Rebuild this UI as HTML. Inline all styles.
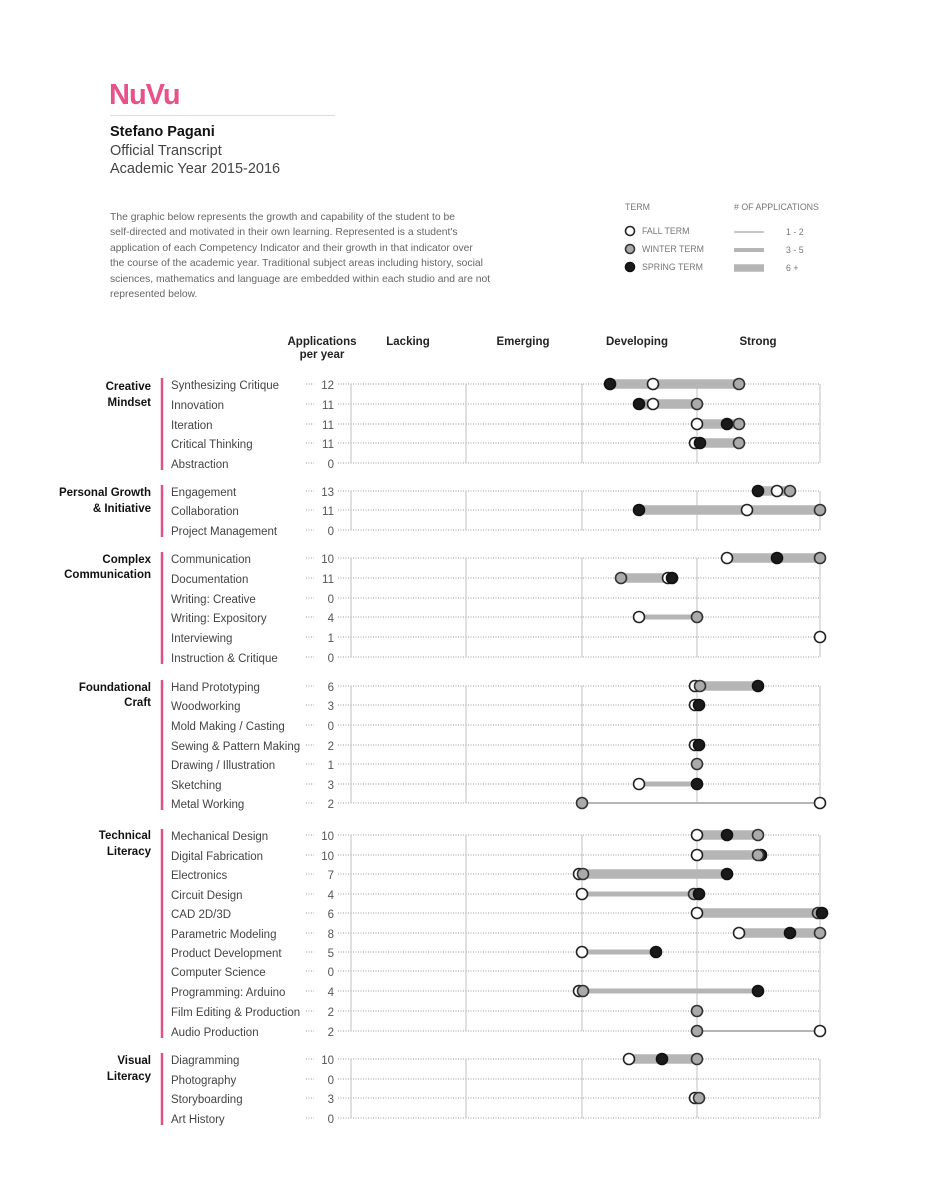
<!DOCTYPE html>
<html><head><meta charset="utf-8"><style>
html,body{margin:0;padding:0;background:#fff}
svg{display:block;font-family:"Liberation Sans",sans-serif}
.gl{font-weight:bold;font-size:11.5px;fill:#111;text-anchor:end}
.il{font-size:11.5px;fill:#444}
.ct{font-size:11.5px;fill:#555;text-anchor:end}
.hd{font-weight:bold;font-size:11.5px;fill:#222;text-anchor:middle}
.p{font-size:10.35px;fill:#666}
.lg{font-size:8.8px;fill:#777}
.dot{stroke:#999;stroke-width:1;stroke-dasharray:1 1.5}
.vg{stroke:#ccc;stroke-width:1.2}
.pk{stroke:#e0508a;stroke-width:2.5}
.f{fill:#fff;stroke:#222;stroke-width:1.6}
.w{fill:#aaa;stroke:#333;stroke-width:1.6}
.s{fill:#1a1a1a;stroke:#111;stroke-width:1.6}
.b9{stroke:#b5b5b5;stroke-width:9.5}
.b5{stroke:#b5b5b5;stroke-width:5}
.b2{stroke:#b5b5b5;stroke-width:2}
</style></head><body>
<svg width="928" height="1200" viewBox="0 0 928 1200">
<text x="109" y="104" font-size="29" font-weight="bold" fill="#e8528a" letter-spacing="-1">NuVu</text>
<line x1="110" y1="115.5" x2="335" y2="115.5" stroke="#ddd"/>
<text x="110" y="136" font-size="14.5" font-weight="bold" fill="#111">Stefano Pagani</text>
<text x="110" y="155" font-size="14.5" fill="#444">Official Transcript</text>
<text x="110" y="173" font-size="14.5" fill="#444">Academic Year 2015-2016</text>
<text class="p" x="110" y="220">The graphic below represents the growth and capability of the student to be</text>
<text class="p" x="110" y="235">self-directed and motivated in their own learning. Represented is a student's</text>
<text class="p" x="110" y="251">application of each Competency Indicator  and their growth in that indicator over</text>
<text class="p" x="110" y="266">the course of the academic year. Traditional subject areas including history, social</text>
<text class="p" x="110" y="282">sciences, mathematics and language are embedded within each studio and are not</text>
<text class="p" x="110" y="297">represented below.</text>

<text class="lg" x="625" y="210">TERM</text>
<text class="lg" x="734" y="210"># OF APPLICATIONS</text>
<circle class="f" cx="630" cy="231" r="4.5"/><text class="lg" x="642" y="234">FALL TERM</text>
<circle class="w" cx="630" cy="249" r="4.5"/><text class="lg" x="642" y="252">WINTER TERM</text>
<circle class="s" cx="630" cy="267" r="4.5"/><text class="lg" x="642" y="270">SPRING TERM</text>
<line x1="734" y1="232" x2="764" y2="232" stroke="#b5b5b5" stroke-width="1.5"/><text class="lg" x="786" y="235">1 - 2</text>
<line x1="734" y1="250" x2="764" y2="250" stroke="#b5b5b5" stroke-width="4"/><text class="lg" x="786" y="253">3 - 5</text>
<line x1="734" y1="268" x2="764" y2="268" stroke="#b5b5b5" stroke-width="7.5"/><text class="lg" x="786" y="271">6 +</text>

<text class="hd" x="322" y="345">Applications</text>
<text class="hd" x="322" y="358">per year</text>
<text class="hd" x="408" y="345">Lacking</text>
<text class="hd" x="523" y="345">Emerging</text>
<text class="hd" x="637" y="345">Developing</text>
<text class="hd" x="758" y="345">Strong</text>

<g class="vg">
<line x1="351" y1="384" x2="351" y2="463"/><line x1="466" y1="384" x2="466" y2="463"/><line x1="582" y1="384" x2="582" y2="463"/><line x1="697" y1="384" x2="697" y2="463"/><line x1="820" y1="384" x2="820" y2="463"/>
<line x1="351" y1="491" x2="351" y2="530"/><line x1="466" y1="491" x2="466" y2="530"/><line x1="582" y1="491" x2="582" y2="530"/><line x1="697" y1="491" x2="697" y2="530"/><line x1="820" y1="491" x2="820" y2="530"/>
<line x1="351" y1="558" x2="351" y2="657"/><line x1="466" y1="558" x2="466" y2="657"/><line x1="582" y1="558" x2="582" y2="657"/><line x1="697" y1="558" x2="697" y2="657"/><line x1="820" y1="558" x2="820" y2="657"/>
<line x1="351" y1="686" x2="351" y2="803"/><line x1="466" y1="686" x2="466" y2="803"/><line x1="582" y1="686" x2="582" y2="803"/><line x1="697" y1="686" x2="697" y2="803"/><line x1="820" y1="686" x2="820" y2="803"/>
<line x1="351" y1="835" x2="351" y2="1031"/><line x1="466" y1="835" x2="466" y2="1031"/><line x1="582" y1="835" x2="582" y2="1031"/><line x1="697" y1="835" x2="697" y2="1031"/><line x1="820" y1="835" x2="820" y2="1031"/>
<line x1="351" y1="1059" x2="351" y2="1118"/><line x1="466" y1="1059" x2="466" y2="1118"/><line x1="582" y1="1059" x2="582" y2="1118"/><line x1="697" y1="1059" x2="697" y2="1118"/><line x1="820" y1="1059" x2="820" y2="1118"/>
</g>
<g class="dot">
<path d="M306 384H314M338 384H820M306 404H314M338 404H820M306 424H314M338 424H820M306 443H314M338 443H820M306 463H314M338 463H820
M306 491H314M338 491H820M306 510H314M338 510H820M306 530H314M338 530H820
M306 558H314M338 558H820M306 578H314M338 578H820M306 598H314M338 598H820M306 617H314M338 617H820M306 637H314M338 637H820M306 657H314M338 657H820
M306 686H314M338 686H820M306 705H314M338 705H820M306 725H314M338 725H820M306 745H314M338 745H820M306 764H314M338 764H820M306 784H314M338 784H820M306 803H314M338 803H820
M306 835H314M338 835H820M306 855H314M338 855H820M306 874H314M338 874H820M306 894H314M338 894H820M306 913H314M338 913H820M306 933H314M338 933H820M306 952H314M338 952H820M306 971H314M338 971H820M306 991H314M338 991H820M306 1011H314M338 1011H820M306 1031H314M338 1031H820
M306 1059H314M338 1059H820M306 1079H314M338 1079H820M306 1098H314M338 1098H820M306 1118H314M338 1118H820"/>
</g>
<g class="pk">
<line x1="162" y1="378" x2="162" y2="470"/>
<line x1="162" y1="485" x2="162" y2="537"/>
<line x1="162" y1="552" x2="162" y2="664"/>
<line x1="162" y1="680" x2="162" y2="810"/>
<line x1="162" y1="829" x2="162" y2="1038"/>
<line x1="162" y1="1053" x2="162" y2="1125"/>
</g>
<text class="gl" x="151" y="390">Creative</text><text class="gl" x="151" y="406">Mindset</text>
<text class="gl" x="151" y="496">Personal Growth</text><text class="gl" x="151" y="512">&amp; Initiative</text>
<text class="gl" x="151" y="563">Complex</text><text class="gl" x="151" y="578">Communication</text>
<text class="gl" x="151" y="691">Foundational</text><text class="gl" x="151" y="706">Craft</text>
<text class="gl" x="151" y="839">Technical</text><text class="gl" x="151" y="855">Literacy</text>
<text class="gl" x="151" y="1064">Visual</text><text class="gl" x="151" y="1080">Literacy</text>
<g class="il">
<text x="171" y="389">Synthesizing Critique</text><text x="171" y="409">Innovation</text><text x="171" y="429">Iteration</text><text x="171" y="448">Critical Thinking</text><text x="171" y="468">Abstraction</text>
<text x="171" y="496">Engagement</text><text x="171" y="515">Collaboration</text><text x="171" y="535">Project Management</text>
<text x="171" y="563">Communication</text><text x="171" y="583">Documentation</text><text x="171" y="603">Writing: Creative</text><text x="171" y="622">Writing: Expository</text><text x="171" y="642">Interviewing</text><text x="171" y="662">Instruction &amp; Critique</text>
<text x="171" y="691">Hand Prototyping</text><text x="171" y="710">Woodworking</text><text x="171" y="730">Mold Making / Casting</text><text x="171" y="750">Sewing &amp; Pattern Making</text><text x="171" y="769">Drawing / Illustration</text><text x="171" y="789">Sketching</text><text x="171" y="808">Metal Working</text>
<text x="171" y="840">Mechanical Design</text><text x="171" y="860">Digital Fabrication</text><text x="171" y="879">Electronics</text><text x="171" y="899">Circuit Design</text><text x="171" y="918">CAD 2D/3D</text><text x="171" y="938">Parametric Modeling</text><text x="171" y="957">Product Development</text><text x="171" y="976">Computer Science</text><text x="171" y="996">Programming: Arduino</text><text x="171" y="1016">Film Editing &amp; Production</text><text x="171" y="1036">Audio Production</text>
<text x="171" y="1064">Diagramming</text><text x="171" y="1084">Photography</text><text x="171" y="1103">Storyboarding</text><text x="171" y="1123">Art History</text>
</g>
<g class="ct">
<text x="334" y="389">12</text><text x="334" y="409">11</text><text x="334" y="429">11</text><text x="334" y="448">11</text><text x="334" y="468">0</text>
<text x="334" y="496">13</text><text x="334" y="515">11</text><text x="334" y="535">0</text>
<text x="334" y="563">10</text><text x="334" y="583">11</text><text x="334" y="603">0</text><text x="334" y="622">4</text><text x="334" y="642">1</text><text x="334" y="662">0</text>
<text x="334" y="691">6</text><text x="334" y="710">3</text><text x="334" y="730">0</text><text x="334" y="750">2</text><text x="334" y="769">1</text><text x="334" y="789">3</text><text x="334" y="808">2</text>
<text x="334" y="840">10</text><text x="334" y="860">10</text><text x="334" y="879">7</text><text x="334" y="899">4</text><text x="334" y="918">6</text><text x="334" y="938">8</text><text x="334" y="957">5</text><text x="334" y="976">0</text><text x="334" y="996">4</text><text x="334" y="1016">2</text><text x="334" y="1036">2</text>
<text x="334" y="1064">10</text><text x="334" y="1084">0</text><text x="334" y="1103">3</text><text x="334" y="1123">0</text>
</g>
<line class="b9" x1="610" y1="384" x2="739" y2="384"/>
<line class="b9" x1="639" y1="404" x2="697" y2="404"/>
<line class="b9" x1="697" y1="424" x2="739" y2="424"/>
<line class="b9" x1="695" y1="443" x2="739" y2="443"/>
<line class="b9" x1="758" y1="491" x2="790" y2="491"/>
<line class="b9" x1="639" y1="510" x2="820" y2="510"/>
<line class="b9" x1="727" y1="558" x2="820" y2="558"/>
<line class="b9" x1="621" y1="578" x2="672" y2="578"/>
<line class="b5" x1="639" y1="617" x2="697" y2="617"/>
<line class="b9" x1="695" y1="686" x2="758" y2="686"/>
<line class="b5" x1="639" y1="784" x2="697" y2="784"/>
<line class="b2" x1="582" y1="803" x2="820" y2="803"/>
<line class="b9" x1="697" y1="835" x2="758" y2="835"/>
<line class="b9" x1="697" y1="855" x2="761" y2="855"/>
<line class="b9" x1="579" y1="874" x2="727" y2="874"/>
<line class="b5" x1="582" y1="894" x2="699" y2="894"/>
<line class="b9" x1="697" y1="913" x2="822" y2="913"/>
<line class="b9" x1="739" y1="933" x2="820" y2="933"/>
<line class="b5" x1="582" y1="952" x2="656" y2="952"/>
<line class="b5" x1="579" y1="991" x2="758" y2="991"/>
<line class="b2" x1="697" y1="1031" x2="820" y2="1031"/>
<line class="b9" x1="629" y1="1059" x2="697" y2="1059"/>
<g>
<circle class="s" cx="610" cy="384" r="5.5"/><circle class="f" cx="653" cy="384" r="5.5"/><circle class="w" cx="739" cy="384" r="5.5"/>
<circle class="s" cx="639" cy="404" r="5.5"/><circle class="f" cx="653" cy="404" r="5.5"/><circle class="w" cx="697" cy="404" r="5.5"/>
<circle class="f" cx="697" cy="424" r="5.5"/><circle class="s" cx="727" cy="424" r="5.5"/><circle class="w" cx="739" cy="424" r="5.5"/>
<circle class="f" cx="695" cy="443" r="5.5"/><circle class="s" cx="700" cy="443" r="5.5"/><circle class="w" cx="739" cy="443" r="5.5"/>
<circle class="s" cx="758" cy="491" r="5.5"/><circle class="f" cx="777" cy="491" r="5.5"/><circle class="w" cx="790" cy="491" r="5.5"/>
<circle class="s" cx="639" cy="510" r="5.5"/><circle class="f" cx="747" cy="510" r="5.5"/><circle class="w" cx="820" cy="510" r="5.5"/>
<circle class="f" cx="727" cy="558" r="5.5"/><circle class="s" cx="777" cy="558" r="5.5"/><circle class="w" cx="820" cy="558" r="5.5"/>
<circle class="w" cx="621" cy="578" r="5.5"/><circle class="f" cx="668" cy="578" r="5.5"/><circle class="s" cx="672" cy="578" r="5.5"/>
<circle class="f" cx="639" cy="617" r="5.5"/><circle class="w" cx="697" cy="617" r="5.5"/>
<circle class="f" cx="820" cy="637" r="5.5"/>
<circle class="f" cx="695" cy="686" r="5.5"/><circle class="w" cx="700" cy="686" r="5.5"/><circle class="s" cx="758" cy="686" r="5.5"/>
<circle class="f" cx="695" cy="705" r="5.5"/><circle class="s" cx="699" cy="705" r="5.5"/>
<circle class="f" cx="695" cy="745" r="5.5"/><circle class="s" cx="699" cy="745" r="5.5"/>
<circle class="w" cx="697" cy="764" r="5.5"/>
<circle class="f" cx="639" cy="784" r="5.5"/><circle class="s" cx="697" cy="784" r="5.5"/>
<circle class="w" cx="582" cy="803" r="5.5"/><circle class="f" cx="820" cy="803" r="5.5"/>
<circle class="f" cx="697" cy="835" r="5.5"/><circle class="s" cx="727" cy="835" r="5.5"/><circle class="w" cx="758" cy="835" r="5.5"/>
<circle class="f" cx="697" cy="855" r="5.5"/><circle class="s" cx="761" cy="855" r="5.5"/><circle class="w" cx="758" cy="855" r="5.5"/>
<circle class="f" cx="579" cy="874" r="5.5"/><circle class="w" cx="583" cy="874" r="5.5"/><circle class="s" cx="727" cy="874" r="5.5"/>
<circle class="f" cx="582" cy="894" r="5.5"/><circle class="w" cx="694" cy="894" r="5.5"/><circle class="s" cx="699" cy="894" r="5.5"/>
<circle class="f" cx="697" cy="913" r="5.5"/><circle class="w" cx="818" cy="913" r="5.5"/><circle class="s" cx="822" cy="913" r="5.5"/>
<circle class="f" cx="739" cy="933" r="5.5"/><circle class="s" cx="790" cy="933" r="5.5"/><circle class="w" cx="820" cy="933" r="5.5"/>
<circle class="f" cx="582" cy="952" r="5.5"/><circle class="s" cx="656" cy="952" r="5.5"/>
<circle class="f" cx="579" cy="991" r="5.5"/><circle class="w" cx="583" cy="991" r="5.5"/><circle class="s" cx="758" cy="991" r="5.5"/>
<circle class="w" cx="697" cy="1011" r="5.5"/>
<circle class="w" cx="697" cy="1031" r="5.5"/><circle class="f" cx="820" cy="1031" r="5.5"/>
<circle class="f" cx="629" cy="1059" r="5.5"/><circle class="s" cx="662" cy="1059" r="5.5"/><circle class="w" cx="697" cy="1059" r="5.5"/>
<circle class="f" cx="695" cy="1098" r="5.5"/><circle class="w" cx="699" cy="1098" r="5.5"/>
</g>
</svg>
</body></html>
